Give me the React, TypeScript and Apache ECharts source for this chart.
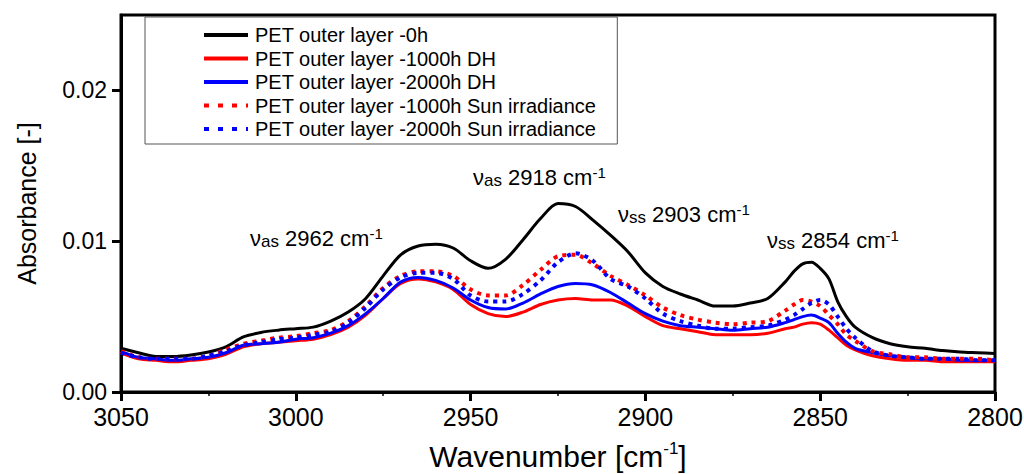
import React, { useEffect, useRef } from "react";
import * as echarts from "echarts";

const wavenumbers = [
  3050, 3045, 3040, 3035, 3030, 3025, 3020, 3015, 3010, 3005, 3000, 2995, 2990, 2985, 2980, 2975, 2970,
  2965, 2960, 2955, 2950, 2945, 2940, 2935, 2930, 2925, 2920, 2915, 2910, 2905, 2900, 2895, 2890, 2885,
  2880, 2875, 2870, 2865, 2860, 2857.5, 2855, 2852.5, 2850, 2847.5, 2845, 2842.5, 2840, 2835, 2830, 2825,
  2820, 2815, 2810, 2805, 2800,
];

const pet0h = [
  0.0029, 0.0026, 0.00235, 0.00235, 0.00245, 0.00265, 0.003, 0.00365, 0.00395, 0.0041, 0.0042, 0.0043, 0.0047,
  0.0053, 0.0062, 0.0077, 0.0091, 0.00968, 0.0098, 0.00955, 0.0087, 0.0082, 0.0088, 0.0101, 0.0115, 0.0125,
  0.0123, 0.0114, 0.0104, 0.0093, 0.0079, 0.007, 0.0065, 0.0061, 0.0057, 0.0057, 0.0059, 0.0062, 0.0073,
  0.008, 0.0085, 0.0086, 0.0082, 0.0075, 0.006, 0.005, 0.0043, 0.0036, 0.0032, 0.003, 0.0029, 0.00275,
  0.00265, 0.0026, 0.00255,
];

const pet1000DH = [
  0.0026, 0.0022, 0.0021, 0.002, 0.0021, 0.0022, 0.0025, 0.003, 0.0032, 0.0033, 0.0034, 0.0035, 0.0038,
  0.0043, 0.0051, 0.0062, 0.0072, 0.0075, 0.0073, 0.0068, 0.0058, 0.0052, 0.005, 0.0053, 0.0058, 0.0061,
  0.0062, 0.0061, 0.0061, 0.0057, 0.005, 0.0044, 0.0042, 0.004, 0.0038, 0.0038, 0.0038, 0.0039, 0.0042,
  0.0043, 0.0045, 0.0046, 0.0045, 0.0041, 0.0036, 0.0031, 0.0028, 0.0024, 0.0022, 0.0021, 0.0021, 0.002,
  0.002, 0.002, 0.002,
];

const pet2000DH = [
  0.0027, 0.0023, 0.0022, 0.0021, 0.0022, 0.0023, 0.0026, 0.0031, 0.0032, 0.0033, 0.0035, 0.0036, 0.0039,
  0.0044, 0.0052, 0.0062, 0.0073, 0.0076, 0.0074, 0.0069, 0.0061, 0.0056, 0.0055, 0.0059, 0.0065, 0.007,
  0.0072, 0.0071, 0.0066, 0.0059, 0.0052, 0.0047, 0.0044, 0.0043, 0.0042, 0.0041, 0.0042, 0.0043, 0.0046,
  0.0048, 0.005, 0.0051, 0.0049, 0.0046, 0.0039, 0.0033, 0.0029, 0.0026, 0.0024, 0.0023, 0.0022, 0.0022,
  0.0021, 0.0021, 0.0021,
];

const pet1000Sun = [
  0.0027, 0.0023, 0.0022, 0.0022, 0.0022, 0.0024, 0.0028, 0.0032, 0.0034, 0.0036, 0.0037, 0.0039, 0.0041,
  0.0047, 0.0057, 0.0069, 0.0077, 0.008, 0.008, 0.0077, 0.0068, 0.0064, 0.0064, 0.0071, 0.0081, 0.009,
  0.0091, 0.0085, 0.0077, 0.0071, 0.0064, 0.0056, 0.0051, 0.0048, 0.0046, 0.0045, 0.0046, 0.0047, 0.0054,
  0.0058, 0.0061, 0.006, 0.0057, 0.0051, 0.0045, 0.0038, 0.0034, 0.0027, 0.0025, 0.0023, 0.0023, 0.0022,
  0.0022, 0.0022, 0.0021,
];

const pet2000Sun = [
  0.0026, 0.0023, 0.0022, 0.0022, 0.0022, 0.0024, 0.0027, 0.0031, 0.0033, 0.0035, 0.0036, 0.0038, 0.004,
  0.0046, 0.0056, 0.0068, 0.0076, 0.0079, 0.0079, 0.0075, 0.0064, 0.006, 0.006, 0.0065, 0.0074, 0.0086,
  0.0092, 0.0087, 0.0075, 0.007, 0.0062, 0.0052, 0.0047, 0.0044, 0.0042, 0.0042, 0.0043, 0.0044, 0.0048,
  0.0051, 0.0055, 0.0059, 0.0061, 0.0058, 0.005, 0.0042, 0.0036, 0.0027, 0.0024, 0.0023, 0.0022, 0.0022,
  0.0022, 0.0021, 0.0021,
];

const seriesNames = [
  "PET outer layer -0h",
  "PET outer layer -1000h DH",
  "PET outer layer -2000h DH",
  "PET outer layer -1000h Sun irradiance",
  "PET outer layer -2000h Sun irradiance",
];
const seriesValues = [pet0h, pet1000DH, pet2000DH, pet1000Sun, pet2000Sun];
const seriesColors = ["#000000", "#ff0000", "#0000ff", "#ff0000", "#0000ff"];
const seriesDotted = [false, false, false, true, true];

const annotations = [
  { sub: "as", text: "2962 cm", left: 250, top: 226 },
  { sub: "as", text: "2918 cm", left: 473, top: 165 },
  { sub: "ss", text: "2903 cm", left: 618, top: 202 },
  { sub: "ss", text: "2854 cm", left: 767, top: 228 },
];

const FONT = "'Liberation Sans', Arial, sans-serif";

export default function App() {
  const ref = useRef<HTMLDivElement>(null);

  useEffect(() => {
    if (!ref.current) return;
    const chart = echarts.init(ref.current, null, { renderer: "svg" });

    const series = seriesNames.map((name, i) => ({
      name,
      type: "line",
      smooth: 0.3,
      symbol: "none",
      data: wavenumbers.map((w, j) => [w, seriesValues[i][j]]),
      lineStyle: {
        color: seriesColors[i],
        width: seriesDotted[i] ? 4 : 3,
        type: seriesDotted[i] ? [4, 5] : "solid",
        cap: "butt",
      },
      itemStyle: { color: seriesColors[i] },
      z: 2 + i,
    }));

    const richBase = {
      m: { fontSize: 22, fontFamily: FONT, color: "#000", lineHeight: 24, verticalAlign: "middle" },
      s: { fontSize: 17, fontFamily: FONT, color: "#000", lineHeight: 16, verticalAlign: "bottom" },
      p: { fontSize: 15, fontFamily: FONT, color: "#000", lineHeight: 15, verticalAlign: "top" },
    };

    const graphic = annotations.map((a) => ({
      type: "text",
      left: a.left,
      top: a.top,
      style: {
        text: `{m|ν}{s|${a.sub}}{m| ${a.text}}{p|-1}`,
        rich: richBase,
        lineHeight: 32,
      },
      z: 20,
    }));

    chart.setOption({
      animation: false,
      backgroundColor: "#ffffff",
      textStyle: { fontFamily: FONT },
      grid: {
        left: 121,
        right: 29,
        top: 15,
        bottom: 82,
        show: true,
        borderColor: "#000",
        borderWidth: 3,
        backgroundColor: "transparent",
        outerBoundsMode: "none",
        containLabel: false,
      },
      legend: {
        orient: "vertical",
        left: 145,
        top: 17,
        padding: [8, 21, 5, 57],
        itemWidth: 44,
        itemHeight: 4,
        itemGap: 3.5,
        borderColor: "#555",
        borderWidth: 1,
        backgroundColor: "#fff",
        textStyle: { fontSize: 20, fontFamily: FONT, color: "#000", padding: [0, 0, 0, 2] },
        data: seriesNames.map((n, i) => ({
          name: n,
          itemStyle: { opacity: 0 },
          lineStyle: seriesDotted[i] ? { type: [5, 9], width: 4 } : { width: 4 },
        })),
      },
      xAxis: {
        type: "value",
        inverse: true,
        min: 2800,
        max: 3050,
        interval: 50,
        name: "Wavenumber [cm{sup|-1}]",
        nameLocation: "middle",
        nameGap: 48,
        nameTextStyle: {
          fontSize: 30,
          fontFamily: FONT,
          color: "#000",
          rich: {
            sup: { fontSize: 17, fontFamily: FONT, color: "#000", verticalAlign: "top", lineHeight: 17 },
          },
          lineHeight: 32,
        },
        axisLine: { show: true, lineStyle: { color: "#000", width: 3 } },
        axisTick: { show: true, length: 9, lineStyle: { color: "#000", width: 3 } },
        minorTick: { show: true, splitNumber: 2, length: 4, lineStyle: { color: "#000", width: 1.5 } },
        axisLabel: {
          fontSize: 25,
          fontFamily: FONT,
          color: "#000",
          margin: 12,
          formatter: (v: number) => String(v),
        },
        splitLine: { show: false },
      },
      yAxis: {
        type: "value",
        min: 0,
        max: 0.025,
        interval: 0.01,
        name: "Absorbance [-]",
        nameLocation: "middle",
        nameGap: 82,
        nameTextStyle: { fontSize: 25, fontFamily: FONT, color: "#000" },
        axisLine: { show: true, lineStyle: { color: "#000", width: 3 } },
        axisTick: { show: true, length: 9, lineStyle: { color: "#000", width: 3 } },
        axisLabel: {
          fontSize: 23,
          fontFamily: FONT,
          color: "#000",
          margin: 14,
          showMaxLabel: false,
          formatter: (v: number) => (v > 0.0245 ? "" : v.toFixed(2)),
        },
        splitLine: { show: false },
      },
      graphic,
      series,
    });

    return () => chart.dispose();
  }, []);

  return (
    <div
      ref={ref}
      style={{ position: "absolute", left: 0, top: 0, width: 1024, height: 474, background: "#fff" }}
    />
  );
}
